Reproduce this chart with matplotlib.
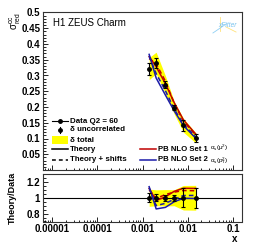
import numpy as np
import matplotlib
matplotlib.use("Agg")
import matplotlib.pyplot as plt
from matplotlib.lines import Line2D
from matplotlib.patches import Rectangle
from matplotlib.ticker import FixedLocator, MultipleLocator, LogLocator, FuncFormatter, NullFormatter

plt.rcParams['font.family'] = ['Liberation Sans', 'DejaVu Sans']
plt.rcParams['mathtext.fontset'] = 'custom'
plt.rcParams['mathtext.rm'] = 'Liberation Sans'
plt.rcParams['mathtext.it'] = 'Liberation Sans:italic'
plt.rcParams['mathtext.bf'] = 'Liberation Sans:bold'

# data (Q2 = 60)
x_vals = [0.0014, 0.002, 0.0032, 0.005, 0.008, 0.015]
sigma = [0.322, 0.340, 0.271, 0.198, 0.142, 0.102]
err_unc = [0.019, 0.015, 0.011, 0.008, 0.017, 0.013]
err_tot = [0.035, 0.034, 0.028, 0.020, 0.022, 0.016]

# theory predictions
set1 = [0.360, 0.328, 0.274, 0.214, 0.159, 0.114]
set1_shift = [0.354, 0.337, 0.282, 0.212, 0.155, 0.111]
set2 = [0.367, 0.292, 0.238, 0.188, 0.141, 0.101]
set2_shift = [0.361, 0.306, 0.252, 0.194, 0.146, 0.105]

x_ticks = [1e-5, 1e-4, 1e-3, 1e-2, 1e-1]

red = '#c00000'
blue = '#1a1aa8'
yellow = '#ffff00'

x = np.array(x_vals)
d = np.array(sigma)
unc = np.array(err_unc)
tot = np.array(err_tot)

fig = plt.figure(figsize=(2.55, 2.48), dpi=100)
ax1 = fig.add_axes([43 / 255, 78 / 248, 199 / 255, 157.5 / 248])
ax2 = fig.add_axes([43 / 255, 26.5 / 248, 199 / 255, 47.5 / 248])

# upper panel
ax1.fill_between(x, d - tot, d + tot, color=yellow, lw=0, zorder=1)
ax1.plot(x, set1, color=red, lw=1.1, zorder=2)
ax1.plot(x, set1_shift, color=red, lw=1.1, ls=(0, (3, 2)), zorder=2)
ax1.plot(x, set2, color=blue, lw=1.1, zorder=2)
ax1.plot(x, set2_shift, color=blue, lw=1.1, ls=(0, (3, 2)), zorder=2)
ax1.errorbar(x, d, yerr=unc, fmt='o', color='black', ms=2.5, lw=0.8,
             capsize=1.3, capthick=0.8, zorder=3)

# ratio panel
ax2.fill_between(x, 1 - tot / d, 1 + tot / d, color=yellow, lw=0, zorder=1)
ax2.axhline(1.0, color='black', lw=0.8, zorder=1.5)
ax2.plot(x, np.array(set1) / d, color=red, lw=1.1, zorder=2)
ax2.plot(x, np.array(set1_shift) / d, color=red, lw=1.1, ls=(0, (3, 2)), zorder=2)
ax2.plot(x, np.array(set2) / d, color=blue, lw=1.1, zorder=2)
ax2.plot(x, np.array(set2_shift) / d, color=blue, lw=1.1, ls=(0, (3, 2)), zorder=2)
ax2.errorbar(x, np.ones_like(d), yerr=unc / d, fmt='o', color='black', ms=2.5,
             lw=0.8, capsize=1.3, capthick=0.8, zorder=3)

for ax in (ax1, ax2):
    ax.set_xscale('log')
    ax.set_xlim(6.3e-6, 0.158)
    ax.xaxis.set_major_locator(FixedLocator(x_ticks))
    ax.xaxis.set_minor_locator(LogLocator(base=10, subs=np.arange(2, 10)))
    ax.xaxis.set_minor_formatter(NullFormatter())
    ax.tick_params(which='both', direction='in', width=0.6, labelsize=7, pad=2,
                   top=False, right=False)
    ax.tick_params(which='major', length=3.5)
    ax.tick_params(which='minor', length=1.8)
    for s in ax.spines.values():
        s.set_color('#333333')
        s.set_linewidth(0.8)

ax1.set_ylim(0, 0.5)
ax1.yaxis.set_major_locator(FixedLocator(np.round(np.arange(0.05, 0.501, 0.05), 2)))
ax1.yaxis.set_minor_locator(MultipleLocator(0.01))
ax1.yaxis.set_major_formatter(FuncFormatter(lambda v, p: '%g' % v))
ax1.xaxis.set_major_formatter(NullFormatter())

ax2.set_ylim(0.7, 1.3)
ax2.yaxis.set_major_locator(FixedLocator([0.8, 1.0, 1.2]))
ax2.yaxis.set_minor_locator(MultipleLocator(0.05))
ax2.yaxis.set_major_formatter(FuncFormatter(lambda v, p: '%g' % v))
ax2.xaxis.set_major_formatter(
    FuncFormatter(lambda v, p: np.format_float_positional(v, trim='-')))

for ax in (ax1, ax2):
    plt.setp(ax.get_xticklabels() + ax.get_yticklabels(), fontweight='bold')

# labels
fig.text(15 / 255, 1 - 12.5 / 248, r'$\mathrm{σ^{cc}_{red}}$', rotation=90,
         ha='center', va='top', fontsize=7)
fig.text(12 / 255, 1 - 197.5 / 248, 'Theory/Data', rotation=90, ha='center',
         va='center', fontsize=6.5, fontweight='bold')
fig.text(235 / 255, 1 - 239 / 248, 'x', ha='center', va='center', fontsize=7,
         fontweight='bold')
ax1.text(0.05, 0.935, 'H1 ZEUS Charm', transform=ax1.transAxes, fontsize=7,
         ha='left', va='center')

# xFitter logo
ax1.text(0.925, 0.917, 'xFitter', transform=ax1.transAxes, color='#79c3ee',
         style='italic', fontsize=4.8, ha='center', va='center')
ax1.add_line(Line2D([0.889, 0.889], [0.971, 0.883], transform=ax1.transAxes,
                    color='#ffe27a', lw=0.6))
ax1.add_line(Line2D([0.854, 0.92], [0.870, 0.927], transform=ax1.transAxes,
                    color='#8fd0f5', lw=0.6))
ax1.add_line(Line2D([0.92, 0.97], [0.908, 0.876], transform=ax1.transAxes,
                    color='#ffe27a', lw=0.6))

# legend (drawn by hand in axes fraction)
tr = ax1.transAxes
lx0, lx1, ltx = 0.045, 0.126, 0.136
rows = [0.311, 0.254, 0.190, 0.132, 0.064]
fs = 5.7
ax1.add_line(Line2D([lx0, lx1], [rows[0]] * 2, transform=tr, color='black', lw=0.8))
ax1.add_line(Line2D([(lx0 + lx1) / 2], [rows[0]], transform=tr, color='black',
                    marker='o', ms=2.5))
ax1.text(ltx, rows[0], 'Data Q2 = 60', transform=tr, fontsize=fs,
         fontweight='bold', va='center')
ax1.add_line(Line2D([(lx0 + lx1) / 2] * 2, [rows[1] - 0.018, rows[1] + 0.018],
                    transform=tr, color='black', lw=0.8))
ax1.add_line(Line2D([(lx0 + lx1) / 2], [rows[1]], transform=tr, color='black',
                    marker='o', ms=2.5))
ax1.text(ltx, rows[1], 'δ uncorrelated', transform=tr, fontsize=fs,
         fontweight='bold', va='center')
ax1.add_patch(Rectangle((lx0, rows[2] - 0.024), lx1 - lx0, 0.048, transform=tr,
                        color=yellow, lw=0))
ax1.text(ltx, rows[2], 'δ total', transform=tr, fontsize=fs,
         fontweight='bold', va='center')
ax1.add_line(Line2D([lx0, lx1], [rows[3]] * 2, transform=tr, color='black', lw=1.1))
ax1.text(ltx, rows[3], 'Theory', transform=tr, fontsize=fs,
         fontweight='bold', va='center')
ax1.add_line(Line2D([lx0, lx1], [rows[4]] * 2, transform=tr, color='black', lw=1.1,
                    ls=(0, (2.5, 2))))
ax1.text(ltx, rows[4], 'Theory + shifts', transform=tr, fontsize=fs,
         fontweight='bold', va='center')

rx0, rx1, rtx = 0.487, 0.568, 0.578
right_entries = [('PB NLO Set 1', r'$\mathrm{α_s(μ^2)}$', red, 0.8),
                 ('PB NLO Set 2', r'$\mathrm{α_s(p_T^2)}$', blue, -0.8)]
for (name, coupling, col, dy), yy in zip(right_entries, rows[3:]):
    ax1.add_line(Line2D([rx0, rx1], [yy] * 2, transform=tr, color=col, lw=1.1))
    t = ax1.text(rtx, yy, name, transform=tr, fontsize=5.6,
                 fontweight='bold', va='center')
    ax1.annotate(coupling, xy=(1, 0.5), xycoords=t, xytext=(1.5, dy),
                 textcoords='offset points', fontsize=4.6, va='center')

fig.savefig('out.png', dpi=100)
